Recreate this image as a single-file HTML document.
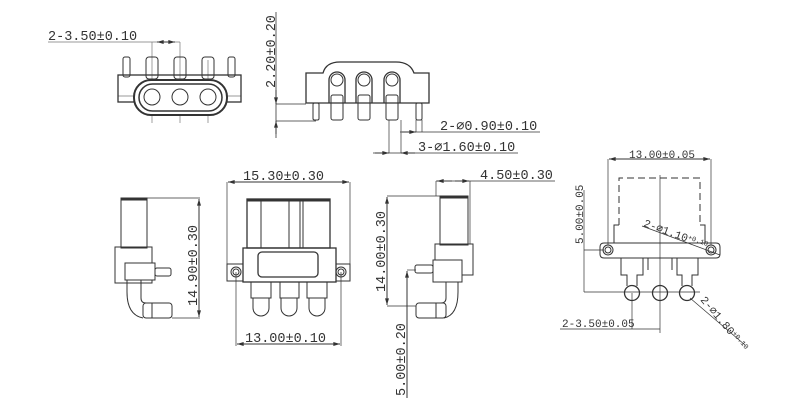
<!DOCTYPE html>
<html><head><style>body{margin:0;background:#fff}svg{display:block}text{font-family:"Liberation Mono",monospace;font-size:13.5px;fill:#333}</style></head><body>
<svg width="800" height="400" viewBox="0 0 800 400" xmlns="http://www.w3.org/2000/svg">
<defs><marker id="a" viewBox="0 0 10 6" refX="10" refY="3" markerWidth="8" markerHeight="4" orient="auto-start-reverse"><path d="M0,0L10,3L0,6z" fill="#333"/></marker></defs>
<g stroke="#333" fill="none" stroke-width="1">
<!-- top-left -->
<g stroke-width="0.7" stroke="#777"><line x1="48" y1="42" x2="180" y2="42"/><line x1="152" y1="42" x2="152" y2="123"/><line x1="180" y1="42" x2="180" y2="123"/><line x1="208" y1="60" x2="208" y2="123"/><line x1="118" y1="96" x2="241" y2="96"/></g>
<line x1="157" y1="42" x2="175" y2="42" marker-start="url(#a)" marker-end="url(#a)"/>
<rect x="123" y="57" width="7" height="20" rx="2"/><rect x="146" y="57" width="12" height="22" rx="3"/><rect x="174" y="57" width="12" height="22" rx="3"/><rect x="202" y="57" width="12" height="22" rx="3"/><rect x="228" y="57" width="7" height="20" rx="2"/>
<rect x="118" y="75" width="123" height="27" stroke-width="1.3"/>
<rect x="134" y="80" width="93" height="35" rx="17" stroke-width="2" fill="#fff"/>
<rect x="139" y="84" width="83" height="27" rx="13.5" stroke-width="1.5"/>
<circle cx="152" cy="97" r="8"/><circle cx="180" cy="97" r="8"/><circle cx="208" cy="97" r="8"/>
<!-- top-middle -->
<line x1="276" y1="12" x2="276" y2="138" stroke-width="0.8"/>
<line x1="276" y1="104" x2="306" y2="104" stroke-width="0.7"/><line x1="276" y1="121" x2="316" y2="121" stroke-width="0.7"/>
<line x1="276" y1="90" x2="276" y2="104" marker-end="url(#a)"/><line x1="276" y1="134" x2="276" y2="121" marker-end="url(#a)"/>
<path d="M306,73 H323 Q326,62 340,62 H396 Q410,62 414,73 H429 V103 H306z" stroke-width="1.3"/>
<g stroke-width="1.3"><path d="M329,103 V80 A8,8 0 0 1 345,80 V103"/><path d="M356,103 V80 A8,8 0 0 1 372,80 V103"/><path d="M384,103 V80 A8,8 0 0 1 400,80 V103"/></g>
<circle cx="337" cy="80" r="6"/><circle cx="364" cy="80" r="6"/><circle cx="392" cy="80" r="6"/>
<rect x="331" y="95" width="12" height="25" rx="2"/><rect x="358" y="95" width="12" height="25" rx="2"/><rect x="386" y="95" width="12" height="25" rx="2"/>
<rect x="313" y="103" width="6" height="17" rx="1.5"/><rect x="416" y="103" width="6" height="17" rx="1.5"/>
<g stroke-width="0.7"><line x1="389" y1="120" x2="389" y2="153"/><line x1="401" y1="120" x2="401" y2="153"/><line x1="416" y1="120" x2="416" y2="132"/><line x1="422" y1="120" x2="422" y2="132"/><line x1="400" y1="132" x2="540" y2="132"/><line x1="373" y1="153" x2="518" y2="153"/></g>
<line x1="402" y1="132" x2="416" y2="132" marker-end="url(#a)"/><line x1="375" y1="153" x2="389" y2="153" marker-end="url(#a)"/><line x1="415" y1="153" x2="401" y2="153" marker-end="url(#a)"/>
<!-- left side view -->
<rect x="121" y="198" width="26" height="50"/><line x1="121" y1="199" x2="147" y2="199" stroke-width="3"/>
<rect x="115" y="247" width="37" height="36"/><rect x="125" y="263" width="30" height="17" fill="#fff"/>
<rect x="155" y="268" width="16" height="8" rx="2"/>
<path d="M127,280 V292 Q127,315 143,318 M141,280 V298 Q141,303 146,303"/>
<rect x="143" y="303" width="29" height="15" rx="3"/><line x1="152" y1="303" x2="152" y2="318"/>
<g stroke-width="0.7"><line x1="147" y1="198" x2="200" y2="198"/><line x1="172" y1="318" x2="200" y2="318"/></g>
<line x1="199" y1="250" x2="199" y2="199" marker-end="url(#a)"/><line x1="199" y1="250" x2="199" y2="317" marker-end="url(#a)"/>
<!-- front view -->
<g stroke-width="0.7"><line x1="227" y1="182" x2="227" y2="270"/><line x1="350" y1="182" x2="350" y2="270"/><line x1="236" y1="272" x2="236" y2="346"/><line x1="341" y1="272" x2="341" y2="346"/></g>
<line x1="288" y1="182" x2="228" y2="182" marker-end="url(#a)"/><line x1="288" y1="182" x2="349" y2="182" marker-end="url(#a)"/>
<line x1="288" y1="344" x2="237" y2="344" marker-end="url(#a)"/><line x1="288" y1="344" x2="340" y2="344" marker-end="url(#a)"/>
<rect x="247" y="199" width="83" height="49" stroke-width="1.3"/><line x1="247" y1="200" x2="330" y2="200" stroke-width="3"/>
<line x1="261" y1="200" x2="261" y2="248"/><line x1="289" y1="200" x2="289" y2="248"/><line x1="300" y1="200" x2="300" y2="248"/><line x1="303" y1="200" x2="303" y2="248"/>
<rect x="243" y="248" width="93" height="34" stroke-width="1.3"/>
<rect x="258" y="252" width="60" height="25" rx="4" stroke-width="1.3"/>
<rect x="227" y="264" width="16" height="17"/><rect x="336" y="264" width="14" height="17"/>
<circle cx="236" cy="272" r="5"/><circle cx="236" cy="272" r="3"/><circle cx="341" cy="272" r="5"/><circle cx="341" cy="272" r="3"/>
<g><path d="M251,282 V298 H271 V282 M253,298 V308 A8,8 0 0 0 269,308 V298"/><path d="M280,282 V298 H299 V282 M281,298 V308 A8,8 0 0 0 297,308 V298"/><path d="M307,282 V298 H327 V282 M309,298 V308 A8,8 0 0 0 325,308 V298"/></g>
<!-- right side view -->
<g stroke-width="0.7"><line x1="436" y1="181" x2="555" y2="181"/><line x1="436" y1="181" x2="436" y2="196"/><line x1="470" y1="181" x2="470" y2="244"/><line x1="387" y1="196" x2="440" y2="196"/><line x1="387" y1="306" x2="416" y2="306"/><line x1="407" y1="270" x2="416" y2="270"/></g>
<line x1="452" y1="181" x2="437" y2="181" marker-end="url(#a)"/><line x1="455" y1="181" x2="469" y2="181" marker-end="url(#a)"/>
<line x1="387" y1="250" x2="387" y2="197" marker-end="url(#a)"/><line x1="387" y1="250" x2="387" y2="305" marker-end="url(#a)"/>
<line x1="407" y1="398" x2="407" y2="271" marker-end="url(#a)"/>
<rect x="440" y="196" width="28" height="49"/><line x1="440" y1="197" x2="468" y2="197" stroke-width="3"/>
<rect x="435" y="244" width="38" height="31"/><rect x="433" y="260" width="29" height="22" fill="#fff"/>
<rect x="415" y="265" width="18" height="8" rx="2"/>
<path d="M458,282 V292 Q458,315 444,318 M446,282 V298 Q446,303 441,303"/>
<rect x="416" y="303" width="30" height="15" rx="3"/><line x1="436" y1="303" x2="436" y2="318"/>
<!-- right view -->
<g stroke-width="0.7"><line x1="608" y1="159" x2="608" y2="245"/><line x1="711" y1="159" x2="711" y2="245"/><line x1="584" y1="190" x2="584" y2="292"/><line x1="584" y1="250" x2="604" y2="250"/><line x1="584" y1="292" x2="700" y2="292"/><line x1="660" y1="175" x2="660" y2="333"/><line x1="560" y1="329" x2="660" y2="329"/><line x1="632" y1="293" x2="632" y2="329"/><line x1="642" y1="226" x2="720" y2="255"/><line x1="690" y1="298" x2="745" y2="345"/></g>
<line x1="660" y1="159" x2="609" y2="159" marker-end="url(#a)"/><line x1="660" y1="159" x2="710" y2="159" marker-end="url(#a)"/>
<path d="M619,225 V178 H700 V225" stroke-dasharray="7,4"/>
<path d="M619,225 H614 V243 M700,225 H705 V243"/>
<path d="M604,243 H716 Q720,243 720,247 V254 Q720,258 716,258 H604 Q600,258 600,254 V247 Q600,243 604,243z"/>
<circle cx="608" cy="250" r="5"/><circle cx="608" cy="250" r="3"/><circle cx="711" cy="250" r="5"/><circle cx="711" cy="250" r="3"/>
<path d="M621,258 V275 H627 V286 M643,258 V275 H637 V286 M648,258 V270 M672,258 V270 M677,258 V275 H682 V286 M698,258 V275 H692 V286"/>
<circle cx="632" cy="293" r="7.5" stroke-width="1.3"/><circle cx="660" cy="293" r="7.5" stroke-width="1.3"/><circle cx="687" cy="293" r="7.5" stroke-width="1.3"/>
</g>
<text x="48" y="40">2-3.50±0.10</text>
<text transform="translate(275,88) rotate(-90)">2.20±0.20</text>
<text x="440" y="130">2-⌀0.90±0.10</text>
<text x="418" y="151">3-⌀1.60±0.10</text>
<text x="243" y="180">15.30±0.30</text>
<text transform="translate(197,306) rotate(-90)">14.90±0.30</text>
<text x="245" y="342">13.00±0.10</text>
<text x="480" y="179">4.50±0.30</text>
<text transform="translate(385,292) rotate(-90)">14.00±0.30</text>
<text transform="translate(405,396) rotate(-90)">5.00±0.20</text>
<text x="629" y="158" style="font-size:11px">13.00±0.05</text>
<text transform="translate(583,244) rotate(-90)" style="font-size:11px">5.00±0.05</text>
<text x="562" y="327" style="font-size:11px">2-3.50±0.05</text>
<text transform="translate(643,226) rotate(20)" style="font-size:11px">2-⌀1.10<tspan style="font-size:7px" dy="-3">+0.10</tspan></text>
<text transform="translate(700,300) rotate(50)" style="font-size:11px">2-⌀1.80<tspan style="font-size:7px" dy="-3">+0.10</tspan></text>
</svg>
</body></html>
